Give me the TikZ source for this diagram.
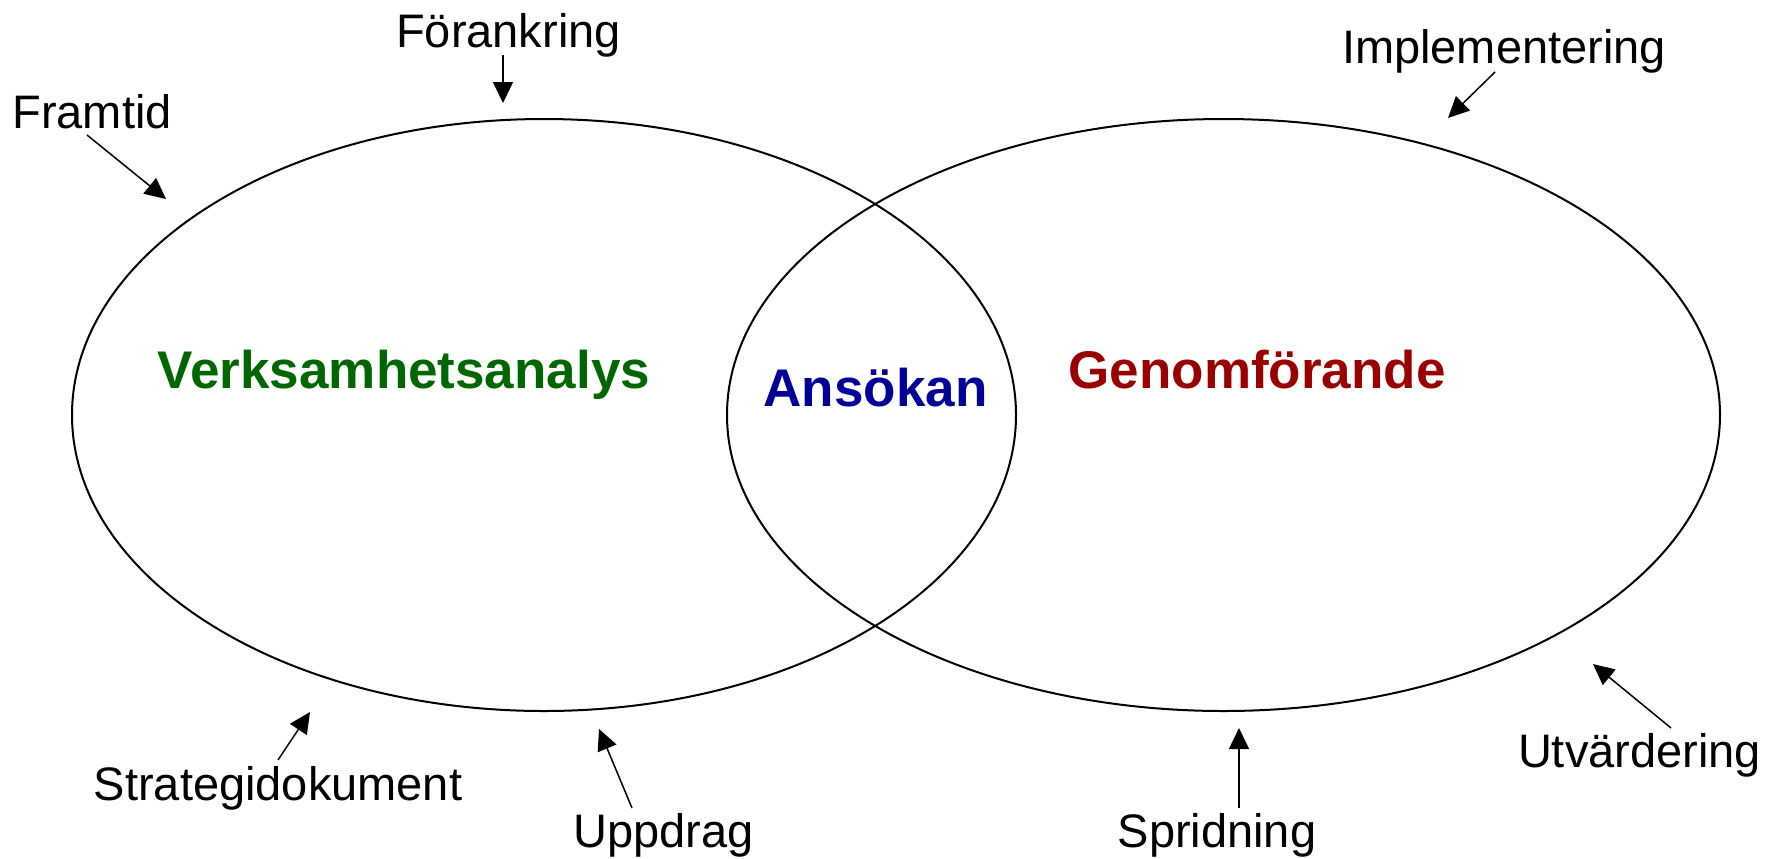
\documentclass[tikz,border=0pt]{standalone}
\usepackage{fontspec}
\setmainfont{Liberation Sans}
\usetikzlibrary{arrows.meta}
\definecolor{vgreen}{HTML}{006600}
\definecolor{ablue}{HTML}{000099}
\definecolor{gred}{HTML}{990000}
\begin{document}
\begin{tikzpicture}[x=0.5pt,y=-0.5pt,
  lbl/.style={anchor=base, inner sep=0pt, font=\fontsize{23.5pt}{28pt}\selectfont},
  big/.style={anchor=base, inner sep=0pt, font=\fontsize{26.5pt}{32pt}\selectfont\bfseries},
  ptr/.style={line width=0.75pt, -{Triangle[length=10.5pt,width=10pt]}},
  ring/.style={line width=1pt}]
\useasboundingbox (0,0) rectangle (1768,858);
% ellipses
\draw[ring] (544,415) ellipse [x radius=236pt, y radius=148pt];
\draw[ring] (1223.5,415) ellipse [x radius=248.25pt, y radius=148pt];
% main labels
\node[big, text=vgreen] (verk) at (404,388) {Verksamhetsanalys};
\node[big, text=ablue] (ans) at (875.5,406) {Ansökan};
\node[big, text=gred] (gen) at (1257,388) {Genomförande};
% side labels
\node[lbl] (foran) at (508.5,47) {Förankring};
\node[lbl] (framt) at (92,128) {Framtid};
\node[lbl] (impl) at (1504,63) {Implementering};
\node[lbl] (strat) at (278,800) {Strategidokument};
\node[lbl] (uppd) at (663.5,847) {Uppdrag};
\node[lbl] (sprid) at (1217,847) {Spridning};
\node[lbl] (utv) at (1639.5,767) {Utvärdering};
% arrow end points
\coordinate (foranS) at (503,55);   \coordinate (foranT) at (503,103);
\coordinate (framtS) at (87,135);   \coordinate (framtT) at (166,199);
\coordinate (implS) at (1495,72);   \coordinate (implT) at (1448,118);
\coordinate (stratS) at (278,760);  \coordinate (stratT) at (310,712);
\coordinate (uppdS) at (632,808);   \coordinate (uppdT) at (599,729);
\coordinate (spridS) at (1239,808); \coordinate (spridT) at (1239,728);
\coordinate (utvS) at (1671,728);   \coordinate (utvT) at (1593,664);
% arrows
\draw[ptr] (foranS) -- (foranT);
\draw[ptr] (framtS) -- (framtT);
\draw[ptr] (implS) -- (implT);
\draw[ptr] (stratS) -- (stratT);
\draw[ptr] (uppdS) -- (uppdT);
\draw[ptr] (spridS) -- (spridT);
\draw[ptr] (utvS) -- (utvT);
\end{tikzpicture}
\end{document}
